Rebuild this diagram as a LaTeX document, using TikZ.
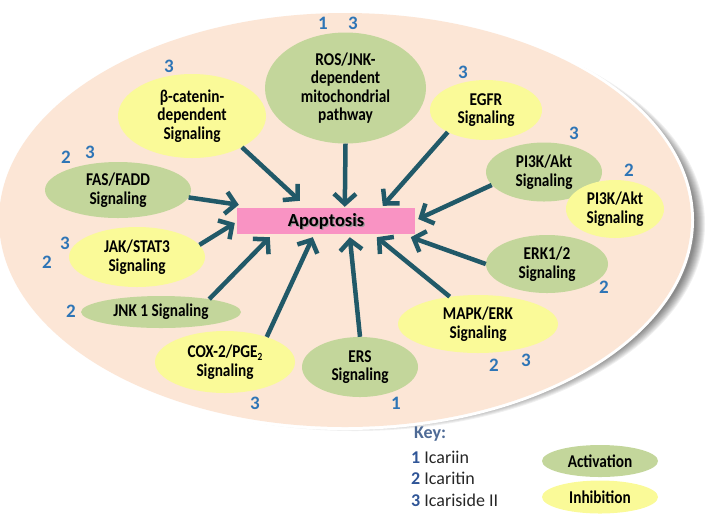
\documentclass[tikz,border=0pt]{standalone}
\usepackage{fontspec}
\setmainfont{Carlito}
\newfontfamily\condfont{Carlito}[FakeStretch=0.85]
\usetikzlibrary{shapes.geometric,arrows.meta,calc}
\definecolor{peach}{HTML}{FCE6D6}
\definecolor{actgreen}{HTML}{C3D69B}
\definecolor{inhyellow}{HTML}{FAFA98}
\definecolor{apopink}{HTML}{F993C3}
\definecolor{arrcol}{HTML}{215968}
\definecolor{numblue}{HTML}{2E75B6}
\definecolor{keyblue}{HTML}{4F6B96}
\definecolor{keynum}{HTML}{2F5597}
\begin{document}
\begin{tikzpicture}[x=1pt,y=-1pt,
  font=\condfont\bfseries\fontsize{18}{18.5}\selectfont,
  ell/.style={ellipse, inner sep=0pt, align=center, text=black},
  act/.style={ell, fill=actgreen},
  inh/.style={ell, fill=inhyellow},
  num/.style={text=numblue, inner sep=0pt, font=\bfseries\fontsize{19}{19}\selectfont},
  arr/.style={draw=arrcol, line width=4.5pt, -{Straight Barb[length=10pt,width=22pt]}},
  keytxt/.style={anchor=west, inner sep=0pt, font=\fontsize{18}{18}\selectfont, text=black!85}
]
\useasboundingbox (0,0) rectangle (708,515);
% big cell ellipse with shadow
\foreach \k in {0,...,9}
  \fill[black, opacity=0.06] (355,224) ellipse [x radius=341+\k, y radius=198+\k];
\fill[white] (345,220) ellipse [x radius=349, y radius=210];
\fill[peach] (345,220) ellipse [x radius=346, y radius=207];

% pathway nodes
\node[act, minimum width=161pt, minimum height=111pt] (ros) at (345.5,88) {ROS/JNK-\\dependent\\mitochondrial\\pathway};
\node[inh, minimum width=148pt, minimum height=84pt] (beta) at (192,116) {β-catenin-\\dependent\\Signaling};
\node[inh, minimum width=112pt, minimum height=60pt] (egfr) at (486,110) {EGFR\\Signaling};
\node[act, minimum width=116pt, minimum height=59pt] (pik) at (544,172) {PI3K/Akt\\Signaling};
\node[inh, minimum width=98pt, minimum height=58pt] (pikb) at (615,209) {PI3K/Akt\\Signaling};
\node[act, minimum width=122pt, minimum height=58pt] (erk) at (547,264) {ERK1/2\\Signaling};
\node[inh, minimum width=160pt, minimum height=58pt] (mapk) at (478,324) {MAPK/ERK\\Signaling};
\node[act, minimum width=116pt, minimum height=60pt] (ers) at (360,367) {ERS\\Signaling};
\node[inh, minimum width=140pt, minimum height=62pt] (cox) at (225,362) {COX-2/PGE{\fontsize{11}{11}\selectfont\raisebox{-2.5pt}{2}}\\Signaling};
\node[act, minimum width=160pt, minimum height=32pt] (jnk) at (161,312) {JNK 1 Signaling};
\node[inh, minimum width=136pt, minimum height=60pt] (jak) at (137,257) {JAK/STAT3\\Signaling};
\node[act, minimum width=146pt, minimum height=56pt] (fas) at (118,190) {FAS/FADD\\Signaling};

% apoptosis box
\node[fill=apopink, minimum width=178pt, minimum height=26pt, inner sep=0pt] (apop) at (326,221) {};
\node[text=black!40, font=\bfseries\fontsize{18.5}{18.5}\selectfont] (apopsh) at ($(apop)+(1.3,1.3)$) {Apoptosis};
\node[text=black, font=\bfseries\fontsize{18.5}{18.5}\selectfont] (apoptxt) at (apop) {Apoptosis};

% arrows
\draw[arr] (ros.south) -- ($(apop.north west)+(108,-1)$);
\draw[arr] (beta.-32) -- ($(apop.north west)+(63,-7)$);
\draw[arr] (egfr.210) -- ($(apop.north west)+(146,-2)$);
\draw[arr] (pik.194) -- ($(apop.east)+(3,-2)$);
\draw[arr] (erk.west) -- ($(apop.south west)+(174,3)$);
\draw[arr] (mapk.136) -- ($(apop.south west)+(140,3)$);
\draw[arr] (ers.north) -- ($(apop.south west)+(113,3)$);
\draw[arr] (cox.31) -- ($(apop.south west)+(76,3)$);
\draw[arr] (jnk.15) -- ($(apop.south west)+(33,3)$);
\draw[arr] (jak.11) -- ($(apop.west)+(-2,2)$);
\draw[arr] (fas.-6) -- ($(apop.north west)+(2,-3)$);

% compound numbers
\node[num] (nros1) at (323,23) {1};
\node[num] (nros3) at (353,23) {3};
\node[num] (nbeta) at (169,66) {3};
\node[num] (negfr) at (463,72) {3};
\node[num] (npik) at (574,133) {3};
\node[num] (npikb) at (629,170) {2};
\node[num] (nerk) at (604,287) {2};
\node[num] (nmapk2) at (494,365) {2};
\node[num] (nmapk3) at (526,360) {3};
\node[num] (ners) at (396,403) {1};
\node[num] (ncox) at (255,403) {3};
\node[num] (njnk) at (71,311) {2};
\node[num] (njak3) at (65,243) {3};
\node[num] (njak2) at (47,262) {2};
\node[num] (nfas2) at (66,157) {2};
\node[num] (nfas3) at (90,152) {3};

% key
\node[anchor=west, inner sep=0pt, text=keyblue, font=\bfseries\fontsize{18}{18}\selectfont] (key) at (414,434) {Key:};
\node[keytxt] (k1) at (411,457) {{\bfseries\color{keynum}1} Icariin};
\node[keytxt] (k2) at (411,478.5) {{\bfseries\color{keynum}2} Icaritin};
\node[keytxt] (k3) at (411,500) {{\bfseries\color{keynum}3} Icariside II};
\node[act, minimum width=116pt, minimum height=32pt] (lact) at (600,461) {Activation};
\node[inh, minimum width=116pt, minimum height=33pt] (linh) at (600,497) {Inhibition};
\end{tikzpicture}
\end{document}
